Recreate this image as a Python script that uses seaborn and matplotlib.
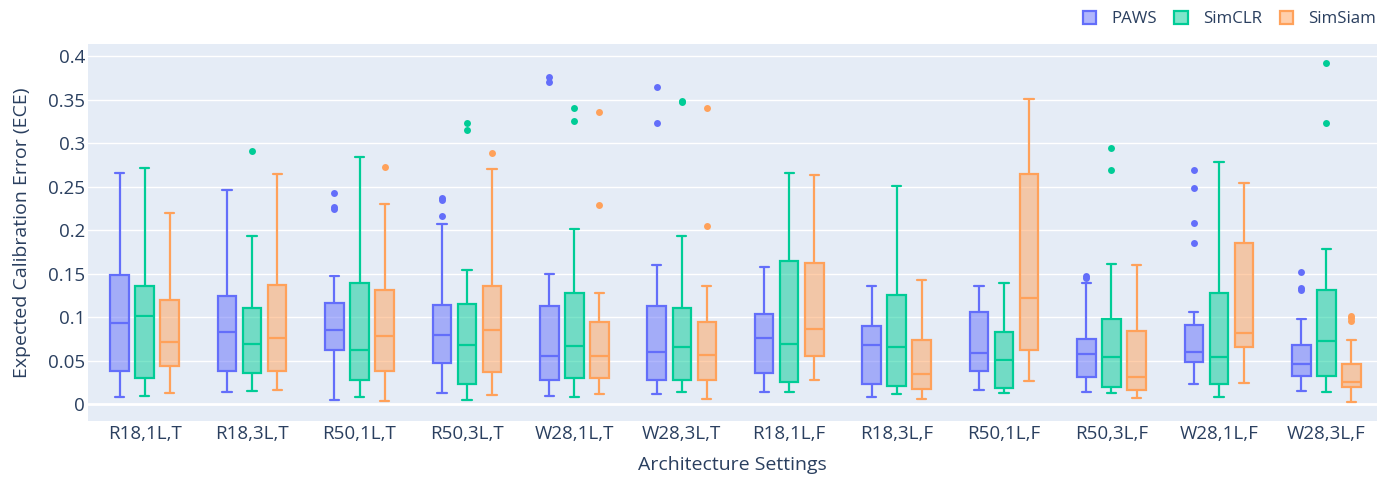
import numpy as np
import pandas as pd
import seaborn as sns
import matplotlib
matplotlib.use("Agg")
import matplotlib.pyplot as plt
from matplotlib.patches import Patch
from matplotlib.colors import to_rgba

# ---------------- data ----------------
categories = ["R18,1L,T", "R18,3L,T", "R50,1L,T", "R50,3L,T", "W28,1L,T", "W28,3L,T",
              "R18,1L,F", "R18,3L,F", "R50,1L,F", "R50,3L,F", "W28,1L,F", "W28,3L,F"]
methods = ["PAWS", "SimCLR", "SimSiam"]

paws_low = [0.009, 0.014, 0.005, 0.013, 0.010, 0.0115, 0.014, 0.009, 0.017, 0.014, 0.024, 0.015]
paws_q1 = [0.039, 0.039, 0.062, 0.048, 0.028, 0.028, 0.036, 0.023, 0.038, 0.031, 0.049, 0.0325]
paws_med = [0.094, 0.083, 0.085, 0.080, 0.056, 0.060, 0.076, 0.068, 0.059, 0.058, 0.060, 0.046]
paws_q3 = [0.149, 0.124, 0.117, 0.1145, 0.113, 0.113, 0.104, 0.090, 0.106, 0.075, 0.091, 0.068]
paws_high = [0.266, 0.246, 0.148, 0.207, 0.150, 0.160, 0.158, 0.136, 0.136, 0.140, 0.106, 0.098]
paws_out = [[], [], [0.243, 0.227, 0.225], [0.237, 0.235, 0.216], [0.376, 0.370],
            [0.365, 0.323], [], [], [], [0.148, 0.145], [0.269, 0.249, 0.208, 0.186],
            [0.152, 0.134, 0.131]]

simclr_low = [0.010, 0.015, 0.008, 0.005, 0.009, 0.014, 0.014, 0.012, 0.013, 0.013, 0.009, 0.014]
simclr_q1 = [0.030, 0.036, 0.028, 0.023, 0.030, 0.028, 0.026, 0.021, 0.019, 0.0195, 0.023, 0.0325]
simclr_med = [0.102, 0.069, 0.062, 0.068, 0.067, 0.066, 0.070, 0.0655, 0.051, 0.054, 0.054, 0.073]
simclr_q3 = [0.136, 0.111, 0.139, 0.115, 0.128, 0.111, 0.165, 0.126, 0.083, 0.098, 0.128, 0.132]
simclr_high = [0.272, 0.194, 0.284, 0.155, 0.201, 0.194, 0.266, 0.251, 0.139, 0.161, 0.278, 0.179]
simclr_out = [[], [0.291], [], [0.323, 0.315], [0.340, 0.325], [0.349, 0.347], [], [], [],
              [0.294, 0.269], [], [0.392, 0.323]]

simsiam_low = [0.013, 0.0165, 0.004, 0.011, 0.0115, 0.006, 0.028, 0.006, 0.027, 0.007, 0.0245, 0.003]
simsiam_q1 = [0.044, 0.039, 0.038, 0.0375, 0.030, 0.028, 0.0555, 0.0175, 0.063, 0.0165, 0.0655, 0.0195]
simsiam_med = [0.072, 0.076, 0.079, 0.086, 0.056, 0.057, 0.087, 0.035, 0.122, 0.031, 0.082, 0.026]
simsiam_q3 = [0.120, 0.137, 0.131, 0.136, 0.0945, 0.0945, 0.163, 0.0735, 0.265, 0.084, 0.185, 0.046]
simsiam_high = [0.220, 0.265, 0.230, 0.271, 0.128, 0.1355, 0.264, 0.143, 0.351, 0.160, 0.254, 0.074]
simsiam_out = [[], [], [0.273], [0.289], [0.336, 0.229], [0.341, 0.205], [], [], [], [], [],
               [0.102, 0.099, 0.096]]

y_ticks = [0, 0.05, 0.1, 0.15, 0.2, 0.25, 0.3, 0.35, 0.4]
y_tick_labels = ["0", "0.05", "0.1", "0.15", "0.2", "0.25", "0.3", "0.35", "0.4"]

colors = ["#636EFA", "#00CC96", "#FFA15A"]

# ---------- build a long table whose box statistics equal the values above ----------
summ = {
    "PAWS": (paws_low, paws_q1, paws_med, paws_q3, paws_high, paws_out),
    "SimCLR": (simclr_low, simclr_q1, simclr_med, simclr_q3, simclr_high, simclr_out),
    "SimSiam": (simsiam_low, simsiam_q1, simsiam_med, simsiam_q3, simsiam_high, simsiam_out),
}
REP = 20
rows = []
for m in methods:
    lo, q1, md, q3, hi, out = summ[m]
    for i, c in enumerate(categories):
        vals = [lo[i]] + [q1[i]] * REP + [md[i]] * REP + [q3[i]] * REP + [hi[i]] + list(out[i])
        rows += [(c, m, v) for v in vals]
df = pd.DataFrame(rows, columns=["arch", "method", "ece"])

# ---------------- drawing ----------------
sns.set_theme(style="darkgrid", rc={"axes.facecolor": "#E5ECF6", "grid.color": "white",
                                    "grid.linewidth": 1.0})
plt.rcParams["font.family"] = ["Open Sans", "DejaVu Sans"]
txt = "#2a3f5f"

fig = plt.figure(figsize=(13.78, 4.78), dpi=100)
ax = fig.add_axes([88 / 1378, 1 - 421 / 478, (1377 - 88) / 1378, (421 - 44) / 478])

sns.boxplot(data=df, x="arch", y="ece", hue="method", order=categories, hue_order=methods,
            palette=colors, width=0.7, gap=0.26, linewidth=1.5, whis=1.5,
            flierprops=dict(marker="o", markersize=5, markeredgewidth=0),
            legend=False, ax=ax)

for cont, col in zip(ax.containers, colors):
    for b in cont.boxes:
        b.set_facecolor(to_rgba(col, 0.5))
        b.set_edgecolor(col)
        b.set_linewidth(1.6)
    for ln in list(cont.whiskers) + list(cont.caps) + list(cont.medians):
        ln.set_color(col)
        ln.set_linewidth(1.6)
    for fl in cont.fliers:
        fl.set_markerfacecolor(col)
        fl.set_markeredgecolor(col)

shift = 3 / 107.4
ax.set_ylim(-0.019, 0.414)
ax.set_xlim(-0.5 - shift, len(categories) - 0.5 - shift)
ax.set_yticks(y_ticks)
ax.set_yticklabels(y_tick_labels)
ax.axhline(0, color="white", lw=2, zorder=0.5)
ax.grid(axis="x", visible=False)
ax.tick_params(axis="both", length=0, labelsize=13.5, labelcolor=txt)
ax.tick_params(axis="y", pad=2)
ax.tick_params(axis="x", pad=3)
for s in ax.spines.values():
    s.set_visible(False)

ax.set_xlabel("Architecture Settings", fontsize=14, color=txt, labelpad=9)
ax.set_ylabel("Expected Calibration Error (ECE)", fontsize=14, color=txt, labelpad=12)

handles = [Patch(facecolor=to_rgba(c, 0.5), edgecolor=c, linewidth=1.6) for c in colors]
fig.legend(handles, methods, loc="center right", bbox_to_anchor=(1376 / 1378, 1 - 19 / 478),
           ncol=3, frameon=False, fontsize=12.2, handlelength=0.78, handleheight=0.78,
           handletextpad=0.9, columnspacing=1.05, borderaxespad=0, borderpad=0,
           labelcolor=txt)

fig.savefig("out.png", dpi=100)
